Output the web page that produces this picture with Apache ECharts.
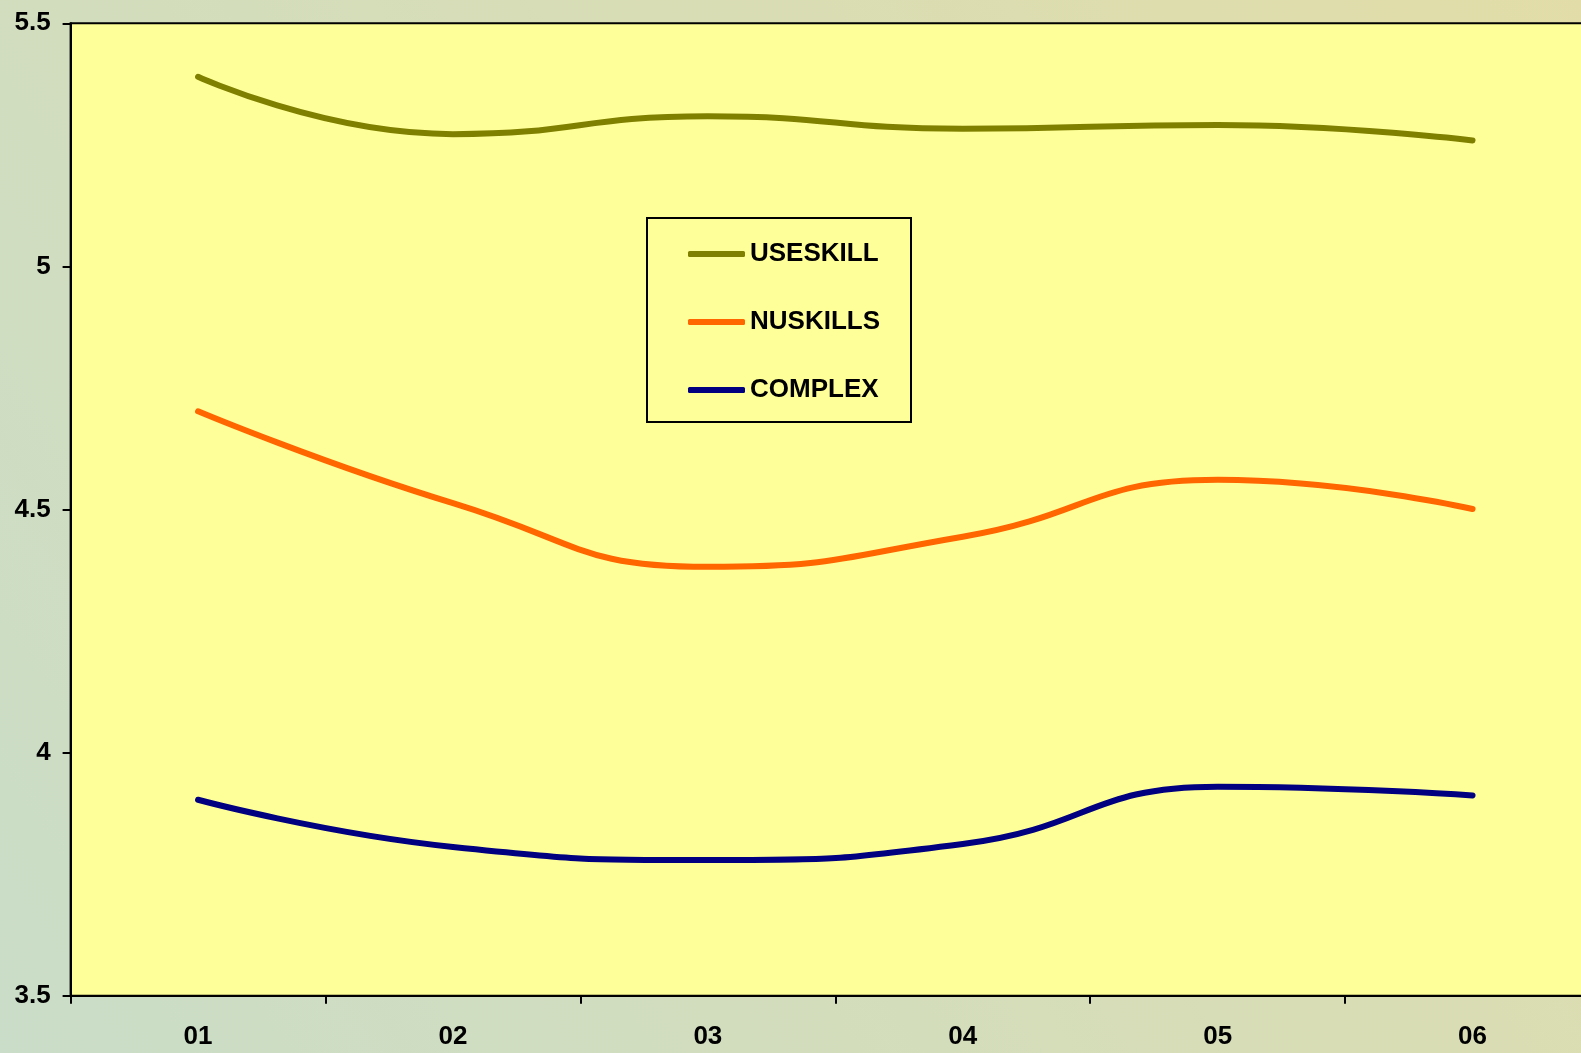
<!DOCTYPE html>
<html>
<head>
<meta charset="utf-8">
<script src="https://cdn.jsdelivr.net/npm/echarts@6/dist/echarts.min.js"></script>
<style>
html,body{margin:0;padding:0;}
#chart{width:1581px;height:1053px;}
</style>
</head>
<body>
<div id="chart"></div>
<script>
const categories = ['01', '02', '03', '04', '05', '06'];
const useskill = [5.39, 5.272, 5.309, 5.283, 5.291, 5.259];
const nuskills = [4.702, 4.513, 4.382, 4.444, 4.561, 4.501];
const complex = [3.903, 3.806, 3.779, 3.812, 3.930, 3.912];
const yTicks = { min: 3.5, max: 5.5, interval: 0.5 };

const font = 'Liberation Sans, Arial, sans-serif';
const chart = echarts.init(document.getElementById('chart'));
function line(name, data, color) {
  return {
    name: name, type: 'line', data: data, smooth: 0.5, symbol: 'none',
    lineStyle: { color: color, width: 6, cap: 'round', join: 'round' },
    itemStyle: { color: color }
  };
}
chart.setOption({
  animation: false,
  backgroundColor: {
    type: 'linear', x: 0, y: 1, x2: 1, y2: 0,
    colorStops: [{ offset: 0, color: '#CADDC8' }, { offset: 1, color: '#E2DDA8' }]
  },
  grid: {
    left: 70.6, top: 23.3, width: 1529.4, height: 972.4,
    outerBoundsMode: 'none', containLabel: false,
    show: true, backgroundColor: '#FFFF99', borderColor: '#000', borderWidth: 2
  },
  legend: {
    orient: 'vertical', left: 647, top: 218,
    padding: [23, 31, 19, 41], itemGap: 42,
    itemWidth: 57, itemHeight: 6, icon: 'roundRect',
    borderColor: '#000', borderWidth: 2, backgroundColor: 'transparent',
    textStyle: { color: '#000', fontWeight: 'bold', fontSize: 26, fontFamily: font, padding: [0, 0, 0, 0] },
    data: ['USESKILL', 'NUSKILLS', 'COMPLEX']
  },
  xAxis: {
    type: 'category', data: categories, boundaryGap: true,
    axisLine: { lineStyle: { color: '#000', width: 2 } },
    axisTick: { show: true, length: 8, lineStyle: { color: '#000', width: 2 } },
    axisLabel: { color: '#000', fontWeight: 'bold', fontSize: 26, fontFamily: font, margin: 28 },
    splitLine: { show: false }
  },
  yAxis: {
    type: 'value', min: yTicks.min, max: yTicks.max, interval: yTicks.interval,
    axisLine: { show: true, lineStyle: { color: '#000', width: 2 } },
    axisTick: { show: true, length: 8, lineStyle: { color: '#000', width: 2 } },
    axisLabel: { color: '#000', fontWeight: 'bold', fontSize: 26, fontFamily: font, margin: 20 },
    splitLine: { show: false }
  },
  series: [
    line('USESKILL', useskill, '#808000'),
    line('NUSKILLS', nuskills, '#FF6600'),
    line('COMPLEX', complex, '#000080')
  ]
});
</script>
</body>
</html>
